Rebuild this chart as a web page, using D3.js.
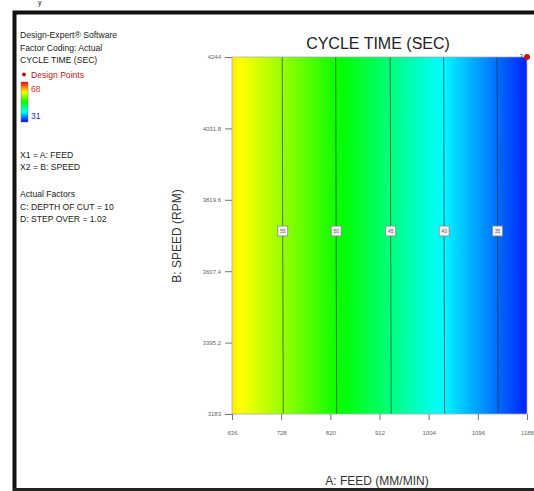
<!DOCTYPE html>
<html>
<head>
<meta charset="utf-8">
<script src="https://cdn.jsdelivr.net/npm/d3@7"></script>
<style>
  html, body { margin: 0; padding: 0; background: #fff; }
  svg { display: block; font-family: Arial, "Liberation Sans", sans-serif; }
</style>
</head>
<body>
<svg id="chart" width="534" height="491"></svg>
<script>
// values
const feedTicks = [636, 728, 820, 912, 1004, 1096, 1188];
const speedTicks = [3183, 3395.2, 3607.4, 3819.6, 4031.8, 4244];
const contourLevels = [55, 50, 45, 40, 35];
const contourFeed = [730, 830, 932, 1032, 1132];
const edgeFeed = [636, 1188];
const edgeValue = [59.5, 32.2];
const responseRange = [31, 68];
const designPoints = [{feed: 1188, speed: 4244, count: 3}];
const legendLines = ["Design-Expert® Software", "Factor Coding: Actual", "CYCLE TIME (SEC)"];
const factorLines = ["X1 = A: FEED", "X2 = B: SPEED"];
const actualLines = ["Actual Factors", "C: DEPTH OF CUT = 10", "D: STEP OVER = 1.02"];

const svg = d3.select("#chart");
const plot = {left: 232, right: 527, top: 57, bottom: 414};

const x = d3.scaleLinear().domain([636, 1188]).range([plot.left, plot.right]);
const y = d3.scaleLinear().domain([3183, 4244]).range([plot.bottom, plot.top]);

// design-expert style ramp: blue - cyan - green - yellow - red
const ramp = d3.scaleLinear()
    .domain([0, 0.25, 0.5, 0.75, 1])
    .range(["#0000ff", "#00ffff", "#00ff00", "#ffff00", "#ff0000"])
    .clamp(true);
const color = v => ramp((v - responseRange[0]) / (responseRange[1] - responseRange[0]));

// gradient stops from the edge values and the contour positions
const stops = [
    {feed: edgeFeed[0], value: edgeValue[0]},
    ...contourFeed.map((f, i) => ({feed: f, value: contourLevels[i]})),
    {feed: edgeFeed[1], value: edgeValue[1]}
];
const defs = svg.append("defs");
const grad = defs.append("linearGradient").attr("id", "fillGrad")
    .attr("gradientUnits", "userSpaceOnUse")
    .attr("x1", plot.left).attr("x2", plot.right).attr("y1", 0).attr("y2", 0);
// extra stops in between so the hue ramp is followed
const fine = [];
for (let i = 0; i < stops.length - 1; i++) {
    const a = stops[i], b = stops[i + 1];
    for (let k = 0; k < 6; k++) {
        const t = k / 6;
        fine.push({feed: a.feed + (b.feed - a.feed) * t, value: a.value + (b.value - a.value) * t});
    }
}
fine.push(stops[stops.length - 1]);
grad.selectAll("stop").data(fine).enter().append("stop")
    .attr("offset", d => (x(d.feed) - plot.left) / (plot.right - plot.left))
    .attr("stop-color", d => color(d.value));

svg.append("rect")
    .attr("x", plot.left).attr("y", plot.top)
    .attr("width", plot.right - plot.left).attr("height", plot.bottom - plot.top)
    .attr("fill", "url(#fillGrad)");

// contour lines
svg.selectAll(".contour").data(contourFeed).enter().append("line")
    .attr("class", "contour")
    .attr("x1", d => x(d)).attr("x2", d => x(d) + 1)
    .attr("y1", plot.top).attr("y2", plot.bottom)
    .attr("stroke", "rgba(0,50,40,0.6)").attr("stroke-width", 1);

const labelY = 231;
const cl = svg.selectAll(".clabel").data(contourFeed).enter().append("g")
    .attr("transform", d => `translate(${x(d) + 0.5},${labelY})`);
cl.append("rect").attr("x", -5).attr("y", -5).attr("width", 10).attr("height", 10)
    .attr("fill", "#f2f2f2").attr("stroke", "#888").attr("stroke-width", 0.8);
cl.append("text").attr("text-anchor", "middle").attr("dy", "0.35em")
    .attr("font-size", 5).attr("fill", "#666")
    .text((d, i) => contourLevels[i]);

// plot frame
svg.append("rect")
    .attr("x", plot.left).attr("y", plot.top)
    .attr("width", plot.right - plot.left).attr("height", plot.bottom - plot.top)
    .attr("fill", "none").attr("stroke", "#aaa").attr("stroke-width", 0.8);

// axes
const xAxis = d3.axisBottom(x).tickValues(feedTicks).tickSize(6).tickPadding(11).tickFormat(d3.format("d"));
const yAxis = d3.axisLeft(y).tickValues(speedTicks).tickSize(7).tickPadding(4).tickFormat(d => d);
const gx = svg.append("g").attr("transform", `translate(0,${plot.bottom})`).call(xAxis);
const gy = svg.append("g").attr("transform", `translate(${plot.left},0)`).call(yAxis);
[gx, gy].forEach(g => {
    g.select(".domain").remove();
    g.selectAll("line").attr("stroke", "#777");
    g.selectAll("text").attr("font-size", 6).attr("fill", "#666").attr("font-family", "Arial, 'Liberation Sans', sans-serif");
});

// design points
const dp = svg.selectAll(".dp").data(designPoints).enter().append("g");
dp.append("circle").attr("cx", d => x(d.feed)).attr("cy", d => y(d.speed)).attr("r", 3)
    .attr("fill", "#d41010");
dp.append("text").attr("x", d => x(d.feed) - 4).attr("y", d => y(d.speed) + 1)
    .attr("text-anchor", "end").attr("font-size", 6).attr("fill", "#444").text(d => d.count);

// titles
svg.append("text").attr("x", 378).attr("y", 49).attr("text-anchor", "middle")
    .attr("font-size", 16).attr("fill", "#222").text("CYCLE TIME (SEC)");
svg.append("text").attr("transform", "translate(181,236) rotate(-90)").attr("text-anchor", "middle")
    .attr("font-size", 12).attr("fill", "#333").text("B: SPEED (RPM)");
svg.append("text").attr("x", 377).attr("y", 485).attr("text-anchor", "middle")
    .attr("font-size", 12).attr("fill", "#333").text("A: FEED (MM/MIN)");

// left legend
const lg = svg.append("g").attr("font-size", 8.6).attr("fill", "#222");
lg.selectAll(".l1").data(legendLines).enter().append("text")
    .attr("x", 20).attr("y", (d, i) => 38 + i * 12.7).text(d => d);
lg.append("circle").attr("cx", 24).attr("cy", 74.5).attr("r", 2).attr("fill", "#a01010");
lg.append("text").attr("x", 31).attr("y", 77.5).attr("fill", "#c02020").text("Design Points");

const barGrad = defs.append("linearGradient").attr("id", "barGrad")
    .attr("x1", 0).attr("x2", 0).attr("y1", 0).attr("y2", 1);
barGrad.selectAll("stop").data(d3.range(0, 1.001, 0.125)).enter().append("stop")
    .attr("offset", d => d)
    .attr("stop-color", d => ramp(1 - d));
lg.append("rect").attr("x", 21).attr("y", 82).attr("width", 7).attr("height", 40)
    .attr("fill", "url(#barGrad)").attr("stroke", "#777").attr("stroke-width", 0.5);
lg.append("text").attr("x", 31).attr("y", 92).attr("fill", "#e03030").text(responseRange[1]);
lg.append("text").attr("x", 31).attr("y", 119).attr("fill", "#2030e0").text(responseRange[0]);

lg.selectAll(".l2").data(factorLines).enter().append("text")
    .attr("x", 20).attr("y", (d, i) => 158 + i * 12).text(d => d);
lg.selectAll(".l3").data(actualLines).enter().append("text")
    .attr("x", 20).attr("y", (d, i) => 197 + i * 12.5).text(d => d);

// outer frame of the screenshot
svg.append("path").attr("d", "M14.5,491 V12.5 H534").attr("fill", "none")
    .attr("stroke", "#111").attr("stroke-width", 4);
svg.append("line").attr("x1", 13).attr("x2", 534).attr("y1", 489.5).attr("y2", 489.5)
    .attr("stroke", "#222").attr("stroke-width", 3);
svg.append("text").attr("x", 38).attr("y", 5).attr("font-size", 7).attr("fill", "#111").text("y");
</script>
</body>
</html>
